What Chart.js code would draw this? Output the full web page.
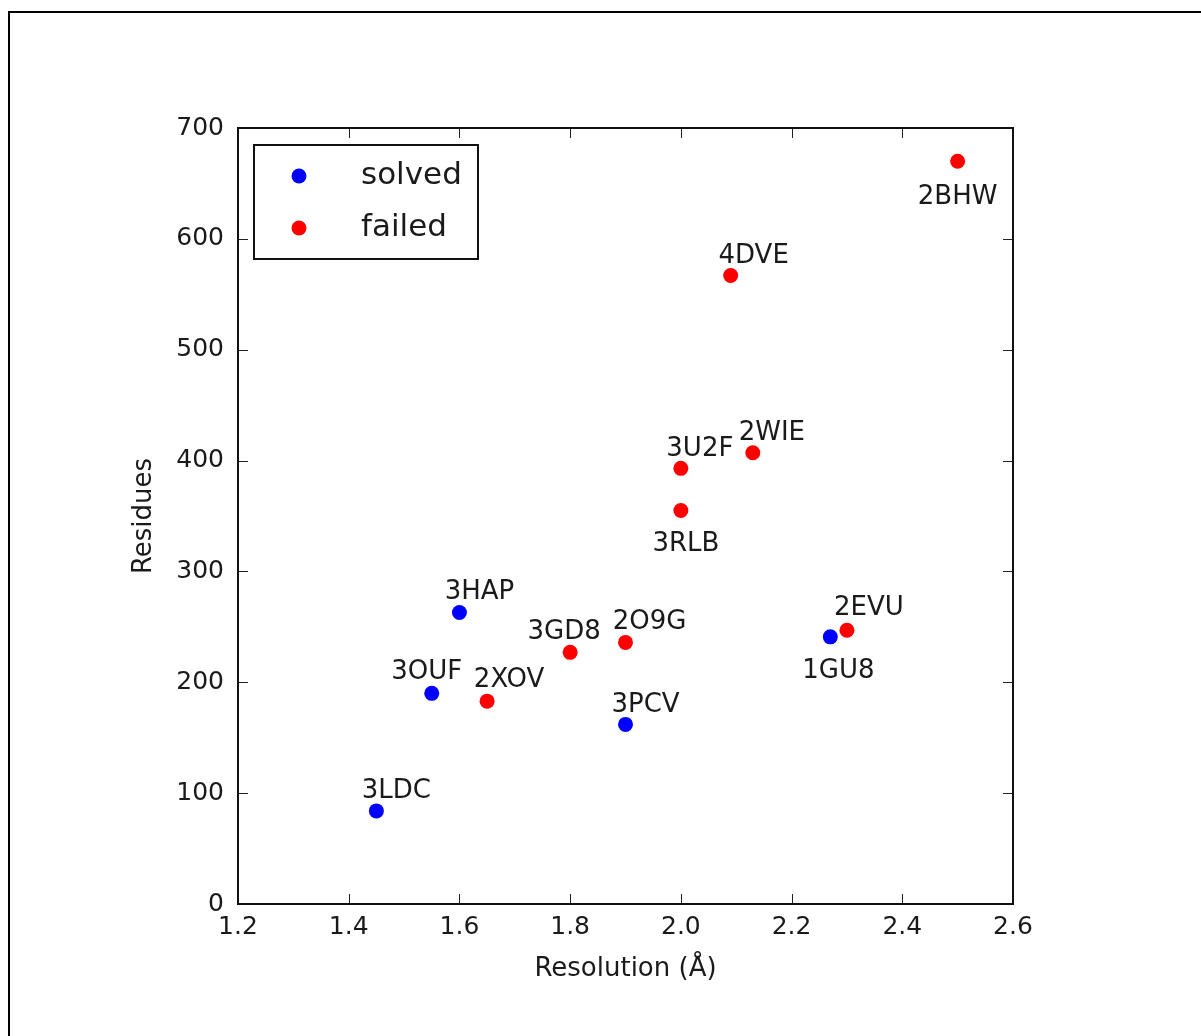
<!DOCTYPE html>
<html>
<head>
<meta charset="utf-8">
<title>Residues vs resolution</title>
<script src="https://cdn.jsdelivr.net/npm/chart.js@4.4.1/dist/chart.umd.min.js"></script>
<style>
  html, body { margin: 0; padding: 0; background: #fff; }
  #wrap { width: 1201px; height: 1036px; }
</style>
</head>
<body>
<div id="wrap"><canvas id="chart" width="1201" height="1036"></canvas></div>
<script>
// structures that were solved
const solvedNames = [`3LDC`, `3OUF`, `3HAP`, `3PCV`, `1GU8`];
const solvedResolution = [1.45, 1.55, 1.6, 1.9, 2.27];
const solvedResidues = [84, 190, 263, 162, 241];

// structures that failed
const failedNames = [`2XOV`, `3GD8`, `2O9G`, `3U2F`, `3RLB`, `4DVE`, `2WIE`, `2EVU`, `2BHW`];
const failedResolution = [1.65, 1.8, 1.9, 2.0, 2.0, 2.09, 2.13, 2.3, 2.5];
const failedResidues = [183, 227, 236, 393, 355, 567, 407, 247, 670];

const xTicks = [1.2, 1.4, 1.6, 1.8, 2.0, 2.2, 2.4, 2.6];
const yTicks = [0, 100, 200, 300, 400, 500, 600, 700];

// annotation text offsets in px, like matplotlib's xytext
const labelOffsets = {
  "3LDC": [20, -23], "3OUF": [-5, -24], "3HAP": [20, -23], "3PCV": [20, -22],
  "1GU8": [8, 31], "2XOV": [22, -24], "3GD8": [-6, -23], "2O9G": [24, -23],
  "3U2F": [19, -22], "3RLB": [5, 31], "4DVE": [23, -22], "2WIE": [19, -23],
  "2EVU": [22, -25], "2BHW": [0, 33],
};

const FONT = `"DejaVu Sans", sans-serif`;
const INK = `#1a1a1a`;

const toPoints = (xs, ys) => xs.map((x, i) => ({ x, y: ys[i] }));

// page frame, axes box, inward ticks on all four sides
const framePlugin = {
  id: `frame`,
  afterDraw(chart) {
    const { ctx, chartArea: a, scales } = chart;
    ctx.save();
    ctx.strokeStyle = `#000`;
    ctx.lineWidth = 2;
    ctx.beginPath();
    ctx.moveTo(9, 1036);
    ctx.lineTo(9, 12);
    ctx.lineTo(1201, 12);
    ctx.stroke();

    ctx.lineWidth = 1;
    ctx.strokeStyle = `#222`;
    const len = 10;
    ctx.beginPath();
    xTicks.forEach((v) => {
      const px = Math.round(scales.x.getPixelForValue(v)) + 0.5;
      ctx.moveTo(px, a.bottom); ctx.lineTo(px, a.bottom - len);
      ctx.moveTo(px, a.top); ctx.lineTo(px, a.top + len);
    });
    yTicks.forEach((v) => {
      const py = Math.round(scales.y.getPixelForValue(v)) + 0.5;
      ctx.moveTo(a.left, py); ctx.lineTo(a.left + len, py);
      ctx.moveTo(a.right, py); ctx.lineTo(a.right - len, py);
    });
    ctx.stroke();

    ctx.lineWidth = 2;
    ctx.strokeStyle = `#111`;
    ctx.strokeRect(a.left, a.top, a.right - a.left, a.bottom - a.top);
    ctx.restore();
  },
};

// point names next to each marker
const labelPlugin = {
  id: `pointLabels`,
  afterDatasetsDraw(chart) {
    const { ctx } = chart;
    ctx.save();
    ctx.font = `26px ${FONT}`;
    ctx.fillStyle = INK;
    ctx.textAlign = `center`;
    ctx.textBaseline = `middle`;
    chart.data.datasets.forEach((ds, di) => {
      const meta = chart.getDatasetMeta(di);
      meta.data.forEach((pt, i) => {
        const name = ds.names[i];
        const [dx, dy] = labelOffsets[name] || [0, -22];
        ctx.fillText(name, pt.x + dx, pt.y + dy + 3);
      });
    });
    ctx.restore();
  },
};

// boxed legend in the upper left of the axes
const legendPlugin = {
  id: `boxLegend`,
  afterDraw(chart) {
    const { ctx } = chart;
    ctx.save();
    ctx.lineWidth = 2;
    ctx.strokeStyle = `#111`;
    ctx.fillStyle = `#fff`;
    ctx.fillRect(254, 145, 224, 114);
    ctx.strokeRect(254, 145, 224, 114);
    ctx.font = `31px ${FONT}`;
    ctx.textAlign = `left`;
    ctx.textBaseline = `alphabetic`;
    chart.data.datasets.forEach((ds, i) => {
      const y = 176 + i * 52;
      ctx.fillStyle = ds.backgroundColor;
      ctx.beginPath();
      ctx.arc(299, y, 7.5, 0, Math.PI * 2);
      ctx.fill();
      ctx.fillStyle = INK;
      ctx.fillText(ds.label, 361, y + 8);
    });
    ctx.restore();
  },
};

new Chart(document.getElementById(`chart`), {
  type: `scatter`,
  data: {
    datasets: [
      {
        label: `solved`,
        names: solvedNames,
        data: toPoints(solvedResolution, solvedResidues),
        backgroundColor: `#0000ff`,
        borderWidth: 0,
        pointRadius: 7.5,
        order: 2,
      },
      {
        label: `failed`,
        names: failedNames,
        data: toPoints(failedResolution, failedResidues),
        backgroundColor: `#ff0000`,
        borderWidth: 0,
        pointRadius: 7.5,
        order: 1,
      },
    ],
  },
  options: {
    responsive: false,
    devicePixelRatio: 1,
    animation: false,
    events: [],
    layout: { padding: { top: 128, right: 188, left: 0, bottom: 0 } },
    plugins: { legend: { display: false }, tooltip: { enabled: false } },
    scales: {
      x: {
        type: `linear`,
        min: 1.2,
        max: 2.6,
        afterFit: (s) => { s.height = 132; },
        afterBuildTicks: (s) => { s.ticks = xTicks.map((value) => ({ value })); },
        grid: { display: false, drawTicks: false },
        border: { display: false },
        ticks: {
          padding: 8,
          color: INK,
          font: { family: FONT, size: 25, lineHeight: 1.2 },
          maxRotation: 0,
          callback: (v) => v.toFixed(1),
        },
        title: {
          display: true,
          text: `Resolution (Å)`,
          color: INK,
          font: { family: FONT, size: 26, lineHeight: 1.2 },
          padding: { top: 0, bottom: 51 },
        },
      },
      y: {
        type: `linear`,
        min: 0,
        max: 700,
        afterFit: (s) => { s.width = 238; },
        afterBuildTicks: (s) => { s.ticks = yTicks.map((value) => ({ value })); },
        grid: { display: false, drawTicks: false },
        border: { display: false },
        ticks: {
          padding: 14,
          color: INK,
          font: { family: FONT, size: 25, lineHeight: 1.2 },
          callback: (v) => String(v),
        },
        title: {
          display: true,
          text: `Residues`,
          color: INK,
          font: { family: FONT, size: 26, lineHeight: 1.2 },
          padding: { top: 129, bottom: 0 },
        },
      },
    },
  },
  plugins: [framePlugin, labelPlugin, legendPlugin],
});
</script>
</body>
</html>
